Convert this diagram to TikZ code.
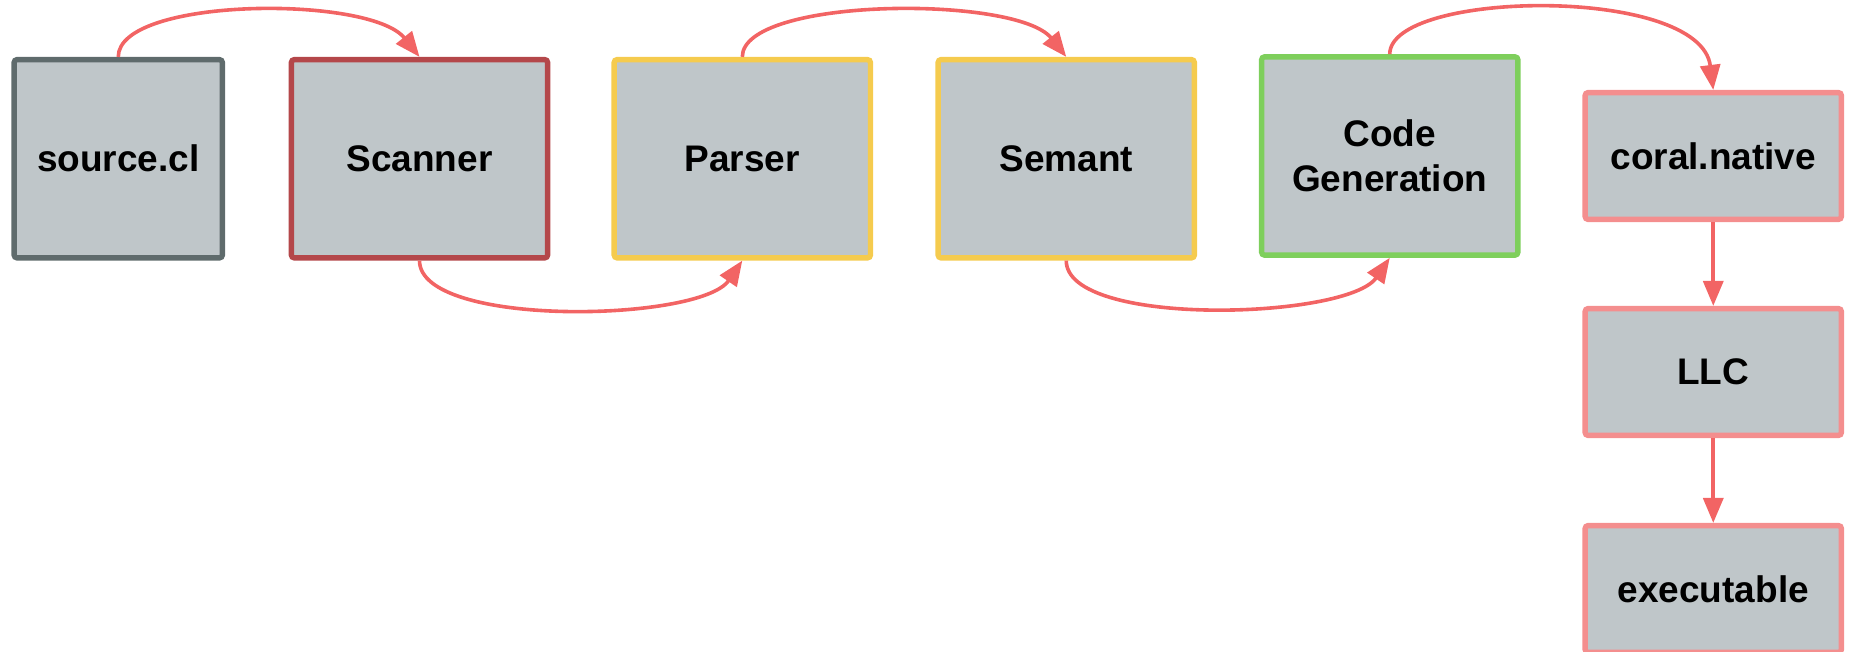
\documentclass[tikz,border=0pt]{standalone}
\usepackage{fontspec}
\setmainfont{Liberation Sans}
\usetikzlibrary{arrows.meta}
\definecolor{boxfill}{HTML}{BFC6C9}
\definecolor{slateedge}{HTML}{5F6B6C}
\definecolor{scanedge}{HTML}{B4474A}
\definecolor{yellowedge}{HTML}{F5CB4E}
\definecolor{greenedge}{HTML}{7ECF5C}
\definecolor{coraledge}{HTML}{F48E8E}
\definecolor{arrowred}{HTML}{F26464}
\begin{document}
\begin{tikzpicture}[x=0.5pt,y=-0.5pt,
  box/.style={draw, fill=boxfill, line width=2.7pt, rounded corners=1.5pt, inner sep=0pt,
    font=\fontsize{18.5}{22.5}\selectfont\bfseries, align=center},
  tallbox/.style={box, minimum width=128.15pt, minimum height=99.15pt},
  narrowbox/.style={box, minimum width=104.15pt, minimum height=99.15pt},
  shortbox/.style={box, minimum width=128.15pt, minimum height=63.4pt},
  conn/.style={draw=arrowred, line width=1.8pt, -{Triangle[length=12.5pt,width=10pt]}}]
\useasboundingbox (0,0) rectangle (1852,652);
\node[narrowbox, draw=slateedge] (src) at (118.25,158.75) {source.cl};
\node[tallbox, draw=scanedge] (scan) at (419.5,158.75) {Scanner};
\node[tallbox, draw=yellowedge] (parser) at (742.3,158.75) {Parser};
\node[tallbox, draw=yellowedge] (semant) at (1066.25,158.75) {Semant};
\node[tallbox, draw=greenedge] (codegen) at (1389.75,156) {Code\\Generation};
\node[shortbox, draw=coraledge] (coral) at (1713.25,156) {coral.native};
\node[shortbox, draw=coraledge] (llc) at (1713.25,372) {LLC};
\node[shortbox, draw=coraledge] (exec) at (1713.25,589) {executable};
\draw[conn] (src.north) .. controls +(0,-60) and +(-49.5,-62) .. (scan.north);
\draw[conn] (scan.south) .. controls +(0,67.5) and +(-42,61.5) .. (parser.south);
\draw[conn] (parser.north) .. controls +(0,-60) and +(-49.5,-62) .. (semant.north);
\draw[conn] (semant.south) .. controls +(0,67.5) and +(-42,61.5) .. (codegen.south);
\draw[conn] (codegen.north) .. controls +(0,-64) and +(-13,-105) .. (coral.north);
\draw[conn] (coral) -- (llc);
\draw[conn] (llc) -- (exec);
\end{tikzpicture}
\end{document}
